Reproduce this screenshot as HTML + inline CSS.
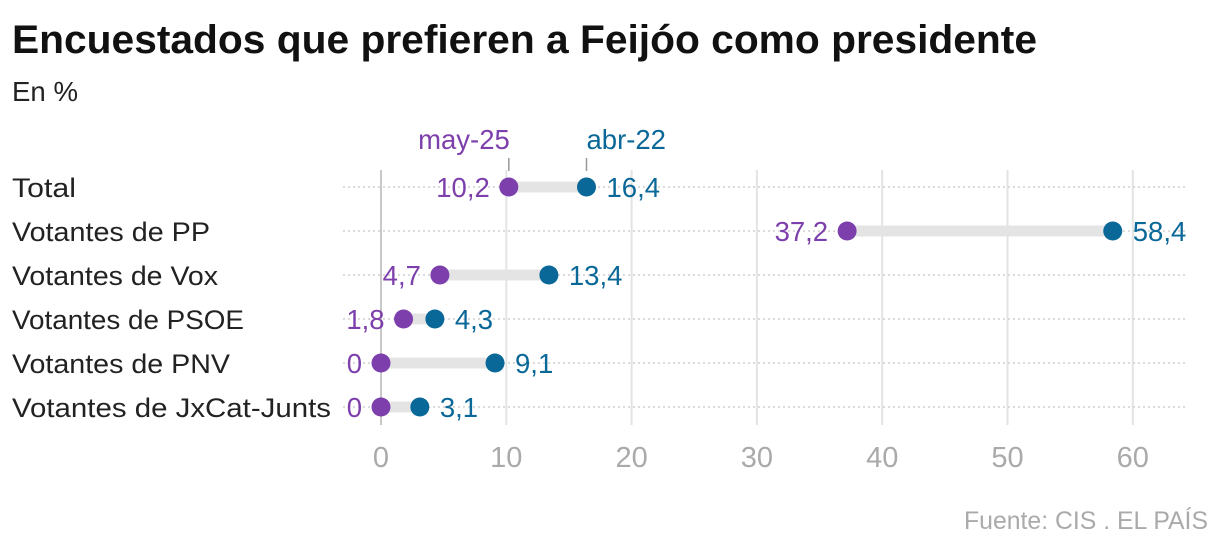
<!DOCTYPE html>
<html><head><meta charset="utf-8">
<style>body{margin:0;background:#fff}svg{display:block;font-family:"Liberation Sans",sans-serif}</style>
</head><body>
<svg id="c" width="1220" height="550">
<text x="12" y="53" font-size="40" font-weight="bold" fill="#111" textLength="1025" lengthAdjust="spacingAndGlyphs">Encuestados que prefieren a Feijóo como presidente</text>
<text x="12" y="101" font-size="28" fill="#222" textLength="66" lengthAdjust="spacingAndGlyphs">En %</text>
<text x="1208" y="529" font-size="25" fill="#aaa" text-anchor="end" textLength="244" lengthAdjust="spacingAndGlyphs">Fuente: CIS . EL PAÍS</text>
<g id="grid"></g><g id="rows"></g><g id="ticks"></g>
</svg>
<script>
const categories=["Total","Votantes de PP","Votantes de Vox","Votantes de PSOE","Votantes de PNV","Votantes de JxCat-Junts"];
const may25=[10.2,37.2,4.7,1.8,0,0];
const abr22=[16.4,58.4,13.4,4.3,9.1,3.1];
const tickValues=[0,10,20,30,40,50,60];
const labelWidths=[64,198,206,232,218,319];
const NS="http://www.w3.org/2000/svg";
const x=v=>381+v*12.53;
const y=i=>187+i*44;
const P="#7d3fab",B="#0a6898";
function mk(p,tag,a,t){const e=document.createElementNS(NS,tag);for(const k in a)e.setAttribute(k,a[k]);if(t!==undefined)e.textContent=t;p.appendChild(e);return e;}
const grid=document.getElementById('grid'),rows=document.getElementById('rows'),ticks=document.getElementById('ticks');
tickValues.forEach(v=>{
 const l=mk(grid,'line',{x1:x(v),x2:x(v),y1:170,y2:425,stroke:v===0?'#c8c8c8':'#e3e3e3','stroke-width':2});
 
 
 const t=mk(ticks,'text',{x:x(v),y:467,'font-size':29,fill:'#aaa','text-anchor':'middle'},String(v));
 
 
});
categories.forEach((c,i)=>{
 const g=mk(rows,'g',{});
 
 
 mk(g,'line',{x1:343,x2:1185,y1:y(i),y2:y(i),stroke:'#cfcfcf','stroke-width':1.5,'stroke-dasharray':'2 3'});
 const lb=mk(g,'text',{x:12,y:y(i)+10,'font-size':27,fill:'#222',textLength:labelWidths[i],lengthAdjust:'spacingAndGlyphs'},c);
 
 
 const a=Math.min(may25[i],abr22[i]),b=Math.max(may25[i],abr22[i]);
 mk(g,'line',{x1:x(a),x2:x(b),y1:y(i),y2:y(i),stroke:'#e4e4e4','stroke-width':11});
 const d1=mk(g,'circle',{cx:x(may25[i]),cy:y(i),r:9.5,fill:P});
 
 
 const d2=mk(g,'circle',{cx:x(abr22[i]),cy:y(i),r:9.5,fill:B});
 
 
 const fmt=v=>String(v).replace('.',',');
 const t1=mk(g,'text',{x:x(may25[i])-19,y:y(i)+10,'font-size':27.5,fill:P,'text-anchor':'end'},fmt(may25[i]));
 
 
 const t2=mk(g,'text',{x:x(abr22[i])+20,y:y(i)+10,'font-size':27.5,fill:B},fmt(abr22[i]));
 
 
 if(i===0){
  mk(g,'line',{x1:x(may25[0]),x2:x(may25[0]),y1:158,y2:171,stroke:'#999','stroke-width':1.5});
  mk(g,'line',{x1:x(abr22[0]),x2:x(abr22[0]),y1:158,y2:171,stroke:'#999','stroke-width':1.5});
  const l1=mk(g,'text',{x:x(may25[0])+1,y:149,'font-size':27.5,fill:P,'text-anchor':'end'},'may-25');
  
  
  const l2=mk(g,'text',{x:x(abr22[0]),y:149,'font-size':27.5,fill:B,'text-anchor':'start'},'abr-22');
  
  
 }
});
</script>
</body></html>
